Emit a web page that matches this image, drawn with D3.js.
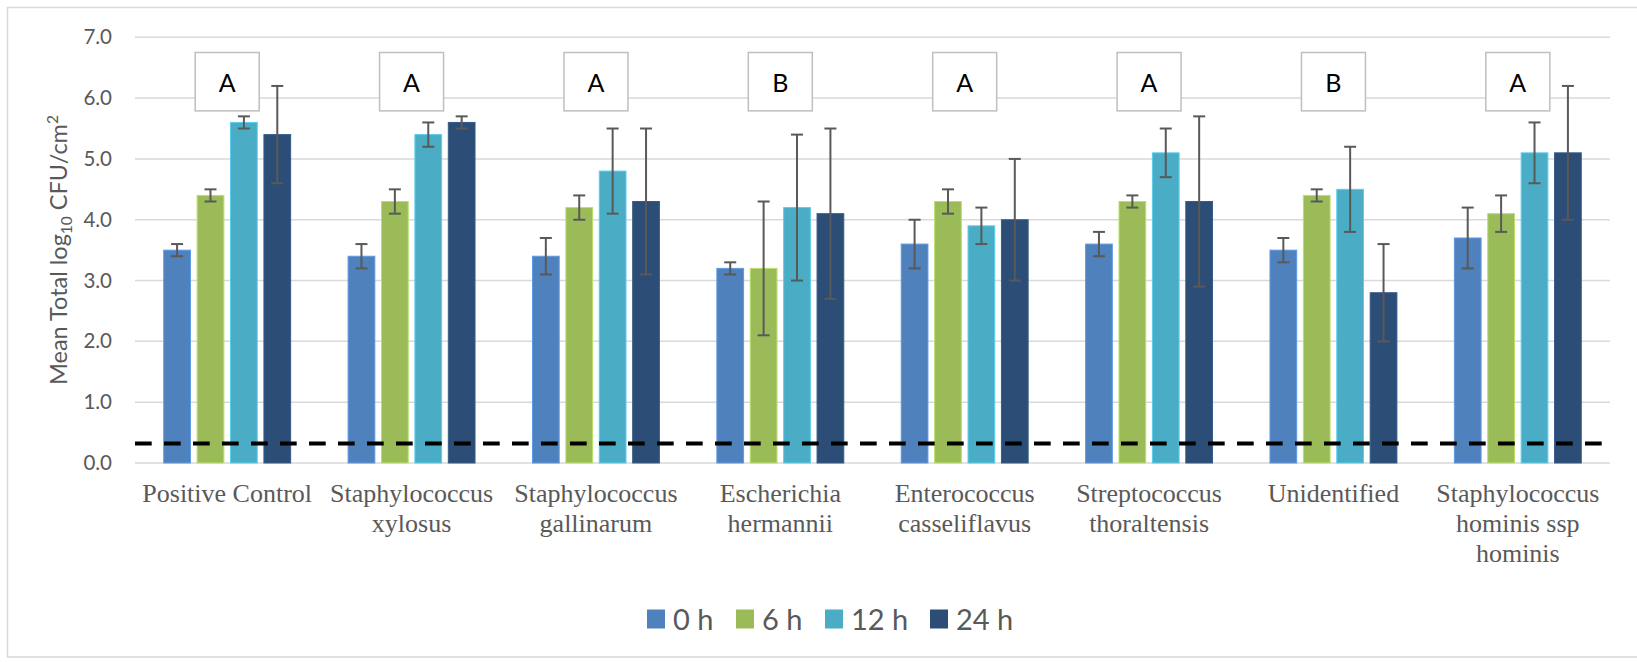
<!DOCTYPE html>
<html>

<head>
  <title>Mean Total log10 CFU/cm2</title>
  <style>
    body { margin: 0; background: #fff; }
  </style>
</head>

<body>
  <svg id="svg"></svg>

  <script src="https://d3js.org/d3.v7.min.js"></script>
  <script>
    // data
    let categories = [
      ["Positive Control"],
      ["Staphylococcus", "xylosus"],
      ["Staphylococcus", "gallinarum"],
      ["Escherichia", "hermannii"],
      ["Enterococcus", "casseliflavus"],
      ["Streptococcus", "thoraltensis"],
      ["Unidentified"],
      ["Staphylococcus", "hominis ssp", "hominis"]
    ];
    let seriesNames = ["0 h", "6 h", "12 h", "24 h"];
    let h0 = [3.5, 3.4, 3.4, 3.2, 3.6, 3.6, 3.5, 3.7];
    let h6 = [4.4, 4.3, 4.2, 3.2, 4.3, 4.3, 4.4, 4.1];
    let h12 = [5.6, 5.4, 4.8, 4.2, 3.9, 5.1, 4.5, 5.1];
    let h24 = [5.4, 5.6, 4.3, 4.1, 4.0, 4.3, 2.8, 5.1];
    let err0 = [0.1, 0.2, 0.3, 0.1, 0.4, 0.2, 0.2, 0.5];
    let err6 = [0.1, 0.2, 0.2, 1.1, 0.2, 0.1, 0.1, 0.3];
    let err12 = [0.1, 0.2, 0.7, 1.2, 0.3, 0.4, 0.7, 0.5];
    let err24 = [0.8, 0.1, 1.2, 1.4, 1.0, 1.4, 0.8, 1.1];
    let letters = ["A", "A", "A", "B", "A", "A", "B", "A"];
    let detectionLimit = 0.32;
    let yTicks = [0, 1, 2, 3, 4, 5, 6, 7];
    let colors = ["#4f81bd", "#9bbb59", "#4bacc6", "#2c4d75"];

    let width = 1637, height = 662;
    let plot = { left: 135, right: 1610, top: 37.3, bottom: 463 };

    let values = [h0, h6, h12, h24];
    let errors = [err0, err6, err12, err24];

    let svg = d3.select("#svg").attr("width", width).attr("height", height);

    // outer frame (right edge runs off the picture)
    svg.append("rect")
      .attr("x", 7.5).attr("y", 7.5)
      .attr("width", 1660).attr("height", 649.5)
      .attr("fill", "none").attr("stroke", "#d9d9d9").attr("stroke-width", 1.5);

    let x0 = d3.scaleBand().domain(d3.range(categories.length)).range([plot.left, plot.right]);
    let x1 = d3.scaleBand().domain(d3.range(seriesNames.length))
      .range([0, x0.bandwidth()]).paddingInner(0.2).paddingOuter(0.86);
    let y = d3.scaleLinear().domain([0, 7]).range([plot.bottom, plot.top]);

    // gridlines
    svg.append("g").selectAll("line")
      .data(yTicks)
      .join("line")
      .attr("x1", plot.left).attr("x2", plot.right)
      .attr("y1", d => y(d)).attr("y2", d => y(d))
      .attr("stroke", "#d9d9d9").attr("stroke-width", 1.5);

    // y axis labels
    let yAxis = svg.append("g")
      .attr("transform", `translate(${plot.left}, 0)`)
      .call(d3.axisLeft(y).tickValues(yTicks).tickFormat(d3.format(".1f")).tickSize(0).tickPadding(23));
    yAxis.select(".domain").remove();
    yAxis.selectAll("text")
      .attr("font-family", "Lato, 'Open Sans', sans-serif")
      .attr("font-size", 20.5)
      .attr("fill", "#595959");

    // y title
    let title = svg.append("text")
      .attr("transform", `translate(67, 250) rotate(-90)`)
      .attr("text-anchor", "middle")
      .attr("font-family", "Lato, 'Open Sans', sans-serif")
      .attr("font-size", 23.5)
      .attr("fill", "#595959");
    title.append("tspan").text("Mean Total log");
    title.append("tspan").attr("font-size", 15.5).attr("dy", 5).text("10");
    title.append("tspan").attr("dy", -5).text(" CFU/cm");
    title.append("tspan").attr("font-size", 15.5).attr("dy", -9).text("2");

    // bars
    let groups = svg.append("g").selectAll("g")
      .data(categories.map((c, i) => i))
      .join("g")
      .attr("transform", i => `translate(${x0(i)}, 0)`);

    groups.selectAll("rect")
      .data(i => seriesNames.map((s, j) => ({ j: j, v: values[j][i], e: errors[j][i] })))
      .join("rect")
      .attr("x", d => x1(d.j))
      .attr("width", x1.bandwidth())
      .attr("y", d => y(d.v))
      .attr("height", d => y(0) - y(d.v))
      .attr("fill", d => colors[d.j])
      .attr("stroke", d => d3.color(colors[d.j]).brighter(0.5))
      .attr("stroke-width", 1);

    // error bars
    let capW = 12;
    let eb = groups.selectAll("g.err")
      .data(i => seriesNames.map((s, j) => ({ j: j, v: values[j][i], e: errors[j][i] })))
      .join("g")
      .attr("class", "err")
      .attr("stroke", "#595959")
      .attr("stroke-width", 2);
    eb.append("line")
      .attr("x1", d => x1(d.j) + x1.bandwidth() / 2)
      .attr("x2", d => x1(d.j) + x1.bandwidth() / 2)
      .attr("y1", d => y(d.v + d.e)).attr("y2", d => y(d.v - d.e));
    eb.append("line")
      .attr("x1", d => x1(d.j) + x1.bandwidth() / 2 - capW / 2)
      .attr("x2", d => x1(d.j) + x1.bandwidth() / 2 + capW / 2)
      .attr("y1", d => y(d.v + d.e)).attr("y2", d => y(d.v + d.e));
    eb.append("line")
      .attr("x1", d => x1(d.j) + x1.bandwidth() / 2 - capW / 2)
      .attr("x2", d => x1(d.j) + x1.bandwidth() / 2 + capW / 2)
      .attr("y1", d => y(d.v - d.e)).attr("y2", d => y(d.v - d.e));

    // detection limit
    svg.append("line")
      .attr("x1", plot.left).attr("x2", plot.right - 3)
      .attr("y1", y(detectionLimit)).attr("y2", y(detectionLimit))
      .attr("stroke", "#000").attr("stroke-width", 4)
      .attr("stroke-dasharray", "16.7 12.3");

    // letter boxes
    let boxW = 64;
    let boxes = svg.append("g").selectAll("g")
      .data(letters)
      .join("g")
      .attr("transform", (d, i) => `translate(${x0(i) + x0.bandwidth() / 2}, 0)`);
    boxes.append("rect")
      .attr("x", -boxW / 2).attr("y", y(6.75))
      .attr("width", boxW).attr("height", y(5.79) - y(6.75))
      .attr("fill", "#fff").attr("stroke", "#bfbfbf").attr("stroke-width", 1.5);
    boxes.append("text")
      .attr("y", 91.7)
      .attr("text-anchor", "middle")
      .attr("font-family", "Lato, 'Open Sans', sans-serif")
      .attr("font-size", 25)
      .attr("fill", "#000")
      .text(d => d);

    // category labels
    svg.append("g").selectAll("text")
      .data(categories)
      .join("text")
      .attr("x", (d, i) => x0(i) + x0.bandwidth() / 2)
      .attr("y", 502)
      .attr("text-anchor", "middle")
      .attr("font-family", "'Liberation Serif', 'Times New Roman', serif")
      .attr("font-size", 26)
      .attr("fill", "#595959")
      .selectAll("tspan")
      .data(d => d)
      .join("tspan")
      .attr("x", function () { return this.parentNode.getAttribute("x"); })
      .attr("dy", (d, k) => k === 0 ? 0 : 30)
      .text(d => d);

    // legend
    let legend = svg.append("g").attr("transform", "translate(647, 619)");
    let legX = [0, 89, 178, 283];
    let items = legend.selectAll("g")
      .data(seriesNames)
      .join("g")
      .attr("transform", (d, i) => `translate(${legX[i]}, 0)`);
    items.append("rect")
      .attr("x", 0).attr("y", -9.5)
      .attr("width", 18).attr("height", 19)
      .attr("fill", (d, i) => colors[i]);
    items.append("text")
      .attr("x", 26).attr("y", 10.5)
      .attr("font-family", "Lato, 'Open Sans', sans-serif")
      .attr("font-size", 29)
      .attr("fill", "#595959")
      .text(d => d);
  </script>
</body>

</html>
